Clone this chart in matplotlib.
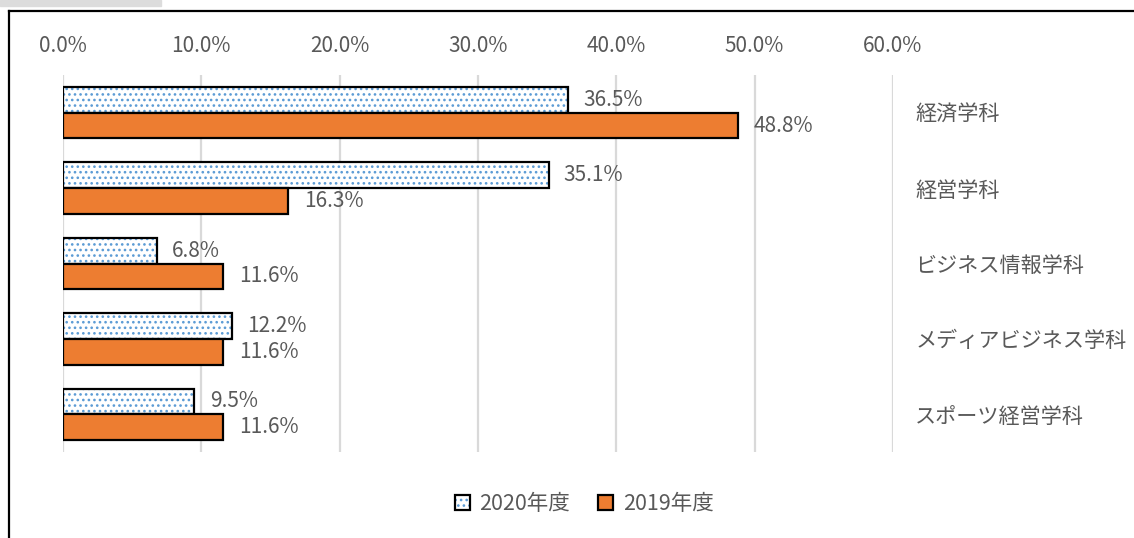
import matplotlib
matplotlib.use("Agg")
import matplotlib.pyplot as plt
from matplotlib.patches import Patch, Rectangle
from matplotlib.lines import Line2D
import numpy as np

categories = ["経済学科", "経営学科", "ビジネス情報学科", "メディアビジネス学科", "スポーツ経営学科"]
series_2020 = [36.5, 35.1, 6.8, 12.2, 9.5]
series_2019 = [48.8, 16.3, 11.6, 11.6, 11.6]
series_names = ["2020年度", "2019年度"]
x_ticks = [0, 10, 20, 30, 40, 50, 60]
x_ticklabels = ["0.0%", "10.0%", "20.0%", "30.0%", "40.0%", "50.0%", "60.0%"]

plt.rcParams['font.family'] = ['Noto Sans CJK JP', 'DejaVu Sans']
plt.rcParams['hatch.linewidth'] = 1.1

GRAY = "#595959"
BLUE = "#5B9BD5"
ORANGE = "#ED7D31"

W, H = 1134, 538
fig = plt.figure(figsize=(W / 100, H / 100), dpi=100)
ax = fig.add_axes([63 / W, 1 - 452 / H, (893 - 63) / W, (452 - 75) / H])

y = np.arange(len(categories))
bh = 0.34
y20 = y - bh / 2
y19 = y + bh / 2

# 2020: white with blue dots + black outline
ax.barh(y20, series_2020, height=bh, color="white", edgecolor=BLUE, hatch="...", linewidth=0, zorder=3)
ax.barh(y20, series_2020, height=bh, fill=False, edgecolor="black", linewidth=1.6, zorder=4)
# 2019: orange with black outline
ax.barh(y19, series_2019, height=bh, color=ORANGE, edgecolor="black", linewidth=1.6, zorder=4)

for yy, v in zip(y20, series_2020):
    ax.annotate(f"{v:.1f}%", (v, yy), xytext=(11, 0), textcoords="offset points",
                va="center", ha="left", fontsize=15, color=GRAY)
for yy, v in zip(y19, series_2019):
    ax.annotate(f"{v:.1f}%", (v, yy), xytext=(11, 0), textcoords="offset points",
                va="center", ha="left", fontsize=15, color=GRAY)

ax.set_xlim(0, 60)
ax.set_ylim(len(categories) - 0.5, -0.5)
ax.set_xticks(x_ticks)
ax.set_xticklabels(x_ticklabels)
ax.xaxis.tick_top()
ax.tick_params(axis="x", length=0, pad=13, labelsize=15, labelcolor=GRAY)
ax.set_yticks(y)
ax.set_yticklabels(categories)
ax.yaxis.tick_right()
ax.tick_params(axis="y", length=0, pad=16, labelsize=15.2, labelcolor=GRAY)
for s in ax.spines.values():
    s.set_visible(False)
ax.grid(axis="x", color="#D9D9D9", linewidth=1.6, zorder=0)
ax.set_axisbelow(True)

h20 = (Patch(facecolor="white", edgecolor=BLUE, hatch="...", linewidth=0),
       Patch(fill=False, edgecolor="black", linewidth=1.6))
h19 = Patch(facecolor=ORANGE, edgecolor="black", linewidth=1.6)
fig.legend([h20, h19], series_names, loc="center", bbox_to_anchor=(584 / W, 1 - 504 / H),
           ncol=2, frameon=False, fontsize=15.5, labelcolor=GRAY,
           handlelength=0.7, handleheight=0.7, handletextpad=0.45, columnspacing=1.3)

# outer frame (partially cropped screenshot)
fig.add_artist(Line2D([9 / W, 1.0], [1 - 11 / H, 1 - 11 / H], color="black", linewidth=1.6,
                      transform=fig.transFigure))
fig.add_artist(Line2D([9 / W, 9 / W], [1 - 11 / H, 0.0], color="black", linewidth=1.6,
                      transform=fig.transFigure))
fig.add_artist(Rectangle((0, 1 - 6 / H), 161 / W, 6 / H, color="#DCDCDC",
                         transform=fig.transFigure))

fig.savefig("out.png", dpi=100)
